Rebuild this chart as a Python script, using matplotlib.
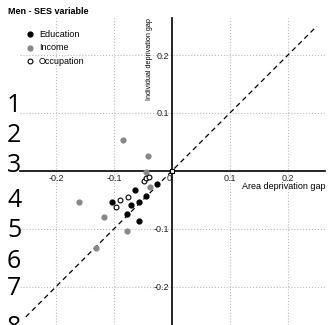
import matplotlib
matplotlib.use("Agg")
import matplotlib.pyplot as plt
import numpy as np

# area gap (x) vs individual gap (y)
edu_x = [-0.026, -0.064, -0.045, -0.104, -0.071, -0.057, -0.077, -0.056]
edu_y = [-0.023, -0.033, -0.044, -0.053, -0.059, -0.054, -0.074, -0.086]
inc_x = [-0.084, -0.041, -0.045, -0.037, -0.160, -0.117, -0.078, -0.131]
inc_y = [0.053, 0.025, -0.001, -0.028, -0.054, -0.079, -0.103, -0.133]
occ_x = [-0.048, -0.044, -0.039, -0.075, -0.090, -0.097]
occ_y = [-0.017, -0.013, -0.011, -0.045, -0.051, -0.062]
origin = [0.0]

ticks = [-0.2, -0.1, 0.1, 0.2]
diag = [-0.252, 0.25]
line_nums = ["1", "2", "3", "4", "5", "6", "7", "8"]
line_base = [112, 142, 172, 207, 237, 268, 295, 334]

plt.rcParams['font.family'] = ['Liberation Sans', 'DejaVu Sans']

fig = plt.figure(figsize=(3.33, 3.25), dpi=100)
ax = fig.add_axes([20/333, 0, 305/333, 307/325])
ax.set_xlim(-0.262, 0.264)
ax.set_ylim(-0.266, 0.264)

#grid
for t in ticks:
    ax.axvline(t, color='#bbbbbb', linestyle=':', linewidth=0.8, zorder=0)
    ax.axhline(t, color='#bbbbbb', linestyle=':', linewidth=0.8, zorder=0)

ax.plot(diag, diag, color='black', linestyle=(0, (4, 3)), linewidth=0.9, zorder=1)

ax.scatter(edu_x, edu_y, s=12, color='black', zorder=3, label='Education')
ax.scatter(inc_x, inc_y, s=12, color='#888888', zorder=3, label='Income')
ax.scatter(occ_x, occ_y, s=12, facecolor='white', edgecolor='black', linewidth=0.8,
           zorder=3, label='Occupation')
ax.scatter(origin, origin, s=8, marker='s', facecolor='white', edgecolor='black',
           linewidth=0.8, zorder=3)

# axes through origin
for side in ['top', 'right']:
    ax.spines[side].set_visible(False)
ax.spines['left'].set_position(('data', 0))
ax.spines['bottom'].set_position(('data', 0))
ax.spines['left'].set_linewidth(1.2)
ax.spines['bottom'].set_linewidth(1.2)

ax.set_xticks(ticks + [0])
ax.set_xticklabels(['-0.2', '-0.1', '0.1', '0.2', '0'])
ax.set_yticks(ticks)
ax.set_yticklabels(['-0.2', '-0.1', '0.1', '0.2'])
ax.tick_params(length=0, labelsize=6.5, colors='#222222', pad=2)
ax.xaxis.get_ticklabels()[-1].set_horizontalalignment('right')

ax.text(1.0, 0.45, 'Area deprivation gap', transform=ax.transAxes,
        ha='right', va='center', fontsize=6.5)
ax.text(0.426, 1.0, 'Individual deprivation gap', transform=ax.transAxes,
        rotation=90, ha='center', va='top', fontsize=5.2)

fig.text(8/333, 1 - 11/325, 'Men - SES variable', fontsize=6.5, fontweight='bold',
         va='center')

ax.legend(loc='upper left', bbox_to_anchor=(20/333, 1 - 25/325),
          bbox_transform=fig.transFigure, frameon=False, fontsize=6.5,
          handletextpad=0.4, labelspacing=0.5, borderpad=0, handlelength=1.2)

for n, b in zip(line_nums, line_base):
    fig.text(7/333, 1 - b/325, n, fontsize=18, family='Open Sans', va='baseline')

fig.savefig('out.png', dpi=100)
